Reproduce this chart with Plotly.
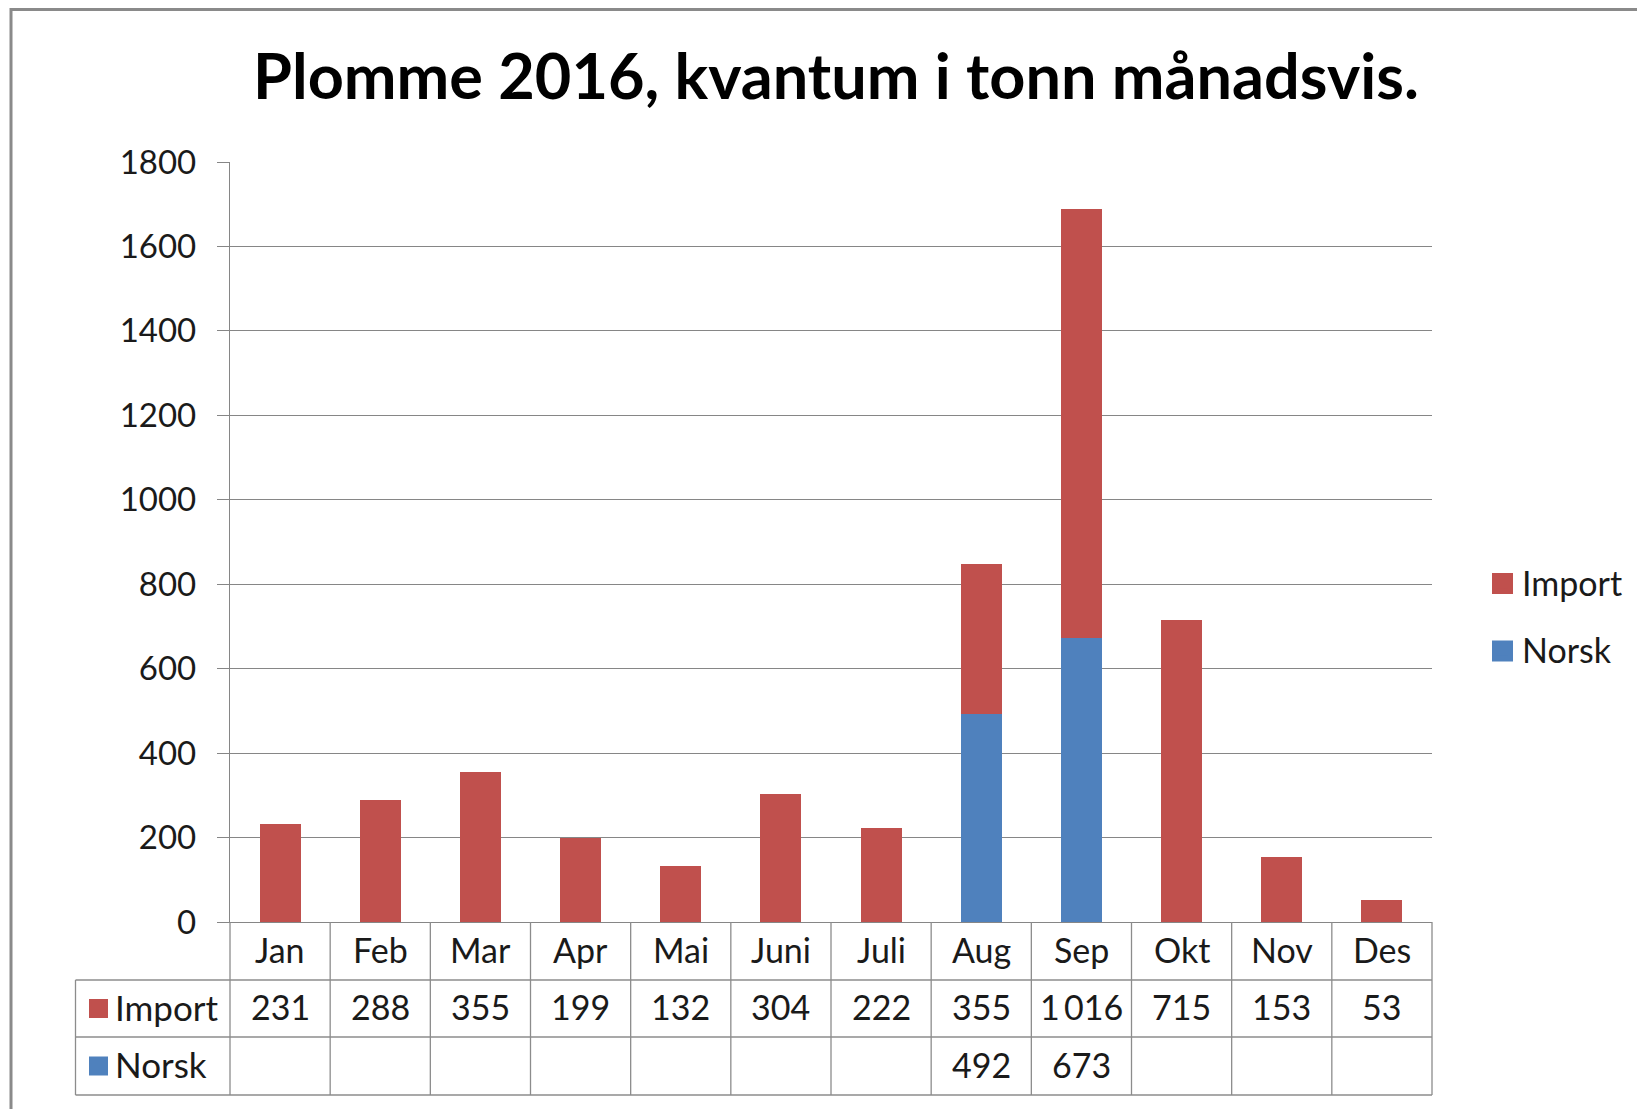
import plotly.graph_objects as go

# ---- data ----
months = ["Jan", "Feb", "Mar", "Apr", "Mai", "Juni", "Juli", "Aug", "Sep", "Okt", "Nov", "Des"]
import_vals = [231, 288, 355, 199, 132, 304, 222, 355, 1016, 715, 153, 53]
norsk_vals = [None, None, None, None, None, None, None, 492, 673, None, None, None]
y_ticks = [0, 200, 400, 600, 800, 1000, 1200, 1400, 1600, 1800]
title_text = "Plomme 2016, kvantum i tonn månadsvis."

# ---- style ----
FIG_W, FIG_H = 1645, 1109
OFF = 8  # default page body margin
L, R, T, B = 230, 1432, 162, 922  # target screen pixels of plot area
W, H = R - L, B - T
C_IMPORT = "#C0504D"
C_NORSK = "#4F81BD"
GRID = "#868686"
TABLE = "#8C8C8C"
FONT = "Lato"
FS_TABLE = 34
FS_TICK = 33
TXT = "#1a1a1a"


def px(x):
    return (x - L) / W


def py(y):
    return (B - y) / H


def fmt(v):
    return f"{v:,}".replace(",", "\u2009")


fig = go.Figure()
fig.add_trace(go.Bar(name="Norsk", x=months, y=norsk_vals, marker_color=C_NORSK,
                     marker_line_width=0, legendgroup="n", legendrank=2, hoverinfo="skip"))
fig.add_trace(go.Bar(name="Import", x=months, y=import_vals, marker_color=C_IMPORT,
                     marker_line_width=0, legendgroup="i", legendrank=1, hoverinfo="skip"))

# table rows (screen pixel rows)
row_cat = (922, 980)
row_imp = (980, 1037)
row_nor = (1037, 1095)
table_left = 75.5
TXT_SHIFT = -2

annotations = []
tf = dict(family=FONT, size=FS_TABLE, color=TXT)
for i, m in enumerate(months):
    annotations.append(dict(x=m, xref="x", y=py(sum(row_cat) / 2 + TXT_SHIFT), yref="paper", text=m,
                            showarrow=False, font=tf, xanchor="center", yanchor="middle"))
    annotations.append(dict(x=m, xref="x", y=py(sum(row_imp) / 2 + TXT_SHIFT), yref="paper",
                            text=fmt(import_vals[i]), showarrow=False, font=tf,
                            xanchor="center", yanchor="middle"))
    if norsk_vals[i] is not None:
        annotations.append(dict(x=m, xref="x", y=py(sum(row_nor) / 2 + TXT_SHIFT), yref="paper",
                                text=fmt(norsk_vals[i]), showarrow=False, font=tf,
                                xanchor="center", yanchor="middle"))

for name, row in (("Import", row_imp), ("Norsk", row_nor)):
    annotations.append(dict(x=px(113), xref="paper", y=py(sum(row) / 2 + TXT_SHIFT), yref="paper", text=name,
                            showarrow=False, font=dict(family=FONT, size=35, color=TXT),
                            xanchor="left", yanchor="middle"))

shapes = []
# outer chart frame
shapes.append(dict(type="rect", xref="paper", yref="paper", x0=px(11), x1=px(1670), y0=py(OFF + 1.5),
                   y1=py(1130), line=dict(color="#8a8a8a", width=3), fillcolor="rgba(0,0,0,0)", layer="below"))
# table horizontal lines
for yy in (row_imp[0], row_imp[1], row_nor[1]):
    shapes.append(dict(type="line", xref="paper", yref="paper", x0=px(table_left), x1=1, y0=py(yy), y1=py(yy),
                       line=dict(color=TABLE, width=1.3)))
# table vertical lines
for k in range(1, len(months)):
    shapes.append(dict(type="line", xref="x", yref="paper", x0=k - 0.5, x1=k - 0.5, y0=0, y1=py(row_nor[1]),
                       line=dict(color=TABLE, width=1.3)))
for xx in (0, 1):
    shapes.append(dict(type="line", xref="paper", yref="paper", x0=xx, x1=xx, y0=0, y1=py(row_nor[1]),
                       line=dict(color=TABLE, width=1.3)))
shapes.append(dict(type="line", xref="paper", yref="paper", x0=px(table_left), x1=px(table_left),
                   y0=py(row_imp[0]), y1=py(row_nor[1]), line=dict(color=TABLE, width=1.3)))
# legend keys in table header
for col, row in ((C_IMPORT, row_imp), (C_NORSK, row_nor)):
    c = sum(row) / 2
    shapes.append(dict(type="rect", xref="paper", yref="paper", x0=px(89), x1=px(108), y0=py(c - 9.5),
                       y1=py(c + 9.5), line=dict(width=0), fillcolor=col))
# enlarged keys for the side legend (Excel-size squares)
for col, c in ((C_IMPORT, 583.5), (C_NORSK, 651)):
    shapes.append(dict(type="rect", xref="paper", yref="paper", x0=px(1492), x1=px(1513), y0=py(c - 10.5),
                       y1=py(c + 10.5), line=dict(width=0), fillcolor=col))

fig.update_layout(
    width=FIG_W, height=FIG_H,
    margin=dict(l=L - OFF, r=FIG_W - (R - OFF), t=T - OFF, b=FIG_H - (B - OFF), pad=0),
    paper_bgcolor="white", plot_bgcolor="white",
    barmode="stack", bargap=0.59,
    font=dict(family=FONT, size=FS_TICK, color=TXT),
    title=dict(text="<b>" + title_text + "</b>", x=px(836), xanchor="center", xref="paper",
               y=1 - (77 - OFF) / FIG_H, yanchor="middle", yref="container",
               font=dict(family=FONT, size=63, color="#000000")),
    legend=dict(x=px(1482), xanchor="left", y=py(554), yanchor="top", traceorder="grouped",
                tracegroupgap=20, font=dict(family=FONT, size=FS_TABLE, color=TXT),
                bgcolor="rgba(0,0,0,0)", borderwidth=0),
    xaxis=dict(type="category", range=[-0.5, len(months) - 0.5], showticklabels=False, ticks="",
               showgrid=False, showline=True, linecolor=GRID, linewidth=1.3, zeroline=False, fixedrange=True),
    yaxis=dict(range=[0, 1800], tickvals=y_ticks, ticktext=[str(v) for v in y_ticks],
               showgrid=True, gridcolor=GRID, gridwidth=1.3, zeroline=False,
               showline=True, linecolor=GRID, linewidth=1.3, ticks="outside", ticklen=12, tickcolor=GRID,
               tickwidth=1.3, ticklabelstandoff=14, tickfont=dict(family=FONT, size=FS_TICK, color=TXT),
               fixedrange=True),
    annotations=annotations,
    shapes=shapes,
)

fig.write_html("out.html")
